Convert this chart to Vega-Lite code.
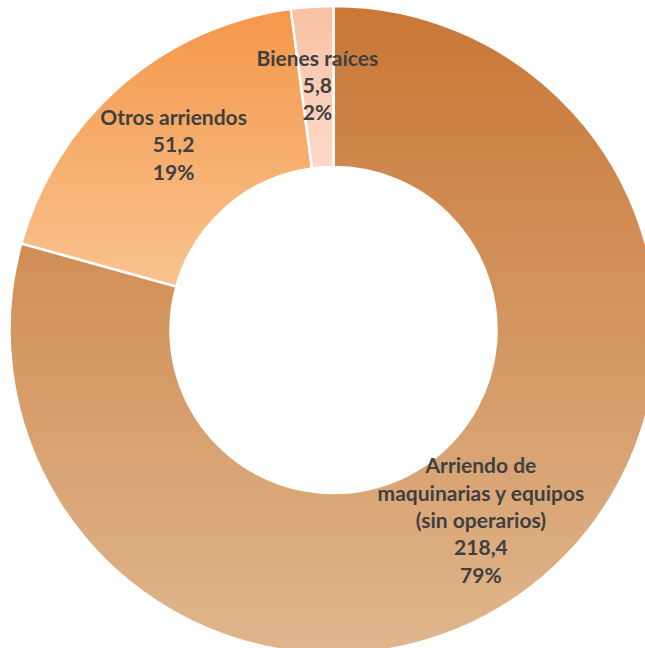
{
  "$schema": "https://vega.github.io/schema/vega-lite/v6.json",
  "autosize": "none",
  "padding": 0,
  "width": 667,
  "height": 660,
  "background": "white",
  "config": {"view": {"stroke": null}},
  "data": {
    "values": [
      {"name": "Arriendo de maquinarias y equipos (sin operarios)", "value": 218.4},
      {"name": "Otros arriendos", "value": 51.2},
      {"name": "Bienes raíces", "value": 5.8}
    ]
  },
  "transform": [
    {"joinaggregate": [{"op": "sum", "field": "value", "as": "total"}]},
    {"window": [{"op": "row_number", "as": "order"}]},
    {"stack": "value", "groupby": [], "sort": [{"field": "order"}], "as": ["v0", "v1"]},
    {"calculate": "(datum.v0 + datum.v1) / 2", "as": "mid"},
    {"calculate": "replace(replace(datum.name, 'Arriendo de ', 'Arriendo de\\n'), 'equipos ', 'equipos\\n') + '\\n' + replace(format(datum.value, '.1f'), '.', ',') + '\\n' + format(datum.value / datum.total, '.0%')", "as": "label"}
  ],
  "layer": [
    {
      "transform": [{"filter": "datum.order == 1"}],
      "mark": {"type": "arc", "innerRadius": 163, "outerRadius": 324, "stroke": "white", "strokeWidth": 2.5,
        "fill": {"gradient": "linear", "x1": 0, "y1": 0, "x2": 0, "y2": 1,
          "stops": [{"offset": 0, "color": "#C87736"}, {"offset": 1, "color": "#E0B68D"}]}},
      "encoding": {
        "theta": {"field": "v0", "type": "quantitative", "scale": {"nice": false, "zero": true, "domain": [0, 275.4], "range": [0, 6.283185307179586]}},
        "theta2": {"field": "v1"}
      }
    },
    {
      "transform": [{"filter": "datum.order == 2"}],
      "mark": {"type": "arc", "innerRadius": 163, "outerRadius": 324, "stroke": "white", "strokeWidth": 2.5,
        "fill": {"gradient": "linear", "x1": 0, "y1": 0, "x2": 0, "y2": 1,
          "stops": [{"offset": 0, "color": "#F4974A"}, {"offset": 1, "color": "#F9C38F"}]}},
      "encoding": {
        "theta": {"field": "v0", "type": "quantitative"},
        "theta2": {"field": "v1"}
      }
    },
    {
      "transform": [{"filter": "datum.order == 3"}],
      "mark": {"type": "arc", "innerRadius": 163, "outerRadius": 324, "stroke": "white", "strokeWidth": 2.5,
        "fill": {"gradient": "linear", "x1": 0, "y1": 0, "x2": 0, "y2": 1,
          "stops": [{"offset": 0, "color": "#F8C1A3"}, {"offset": 1, "color": "#FCD9C9"}]}},
      "encoding": {
        "theta": {"field": "v0", "type": "quantitative"},
        "theta2": {"field": "v1"}
      }
    },
    {
      "transform": [{"filter": "datum.order == 1"}],
      "mark": {"type": "text", "radius": 243.5, "dy": -56.5, "lineBreak": "\n", "font": "Lato", "fontWeight": "bold", "fontSize": 21, "lineHeight": 27.3, "color": "#404040", "align": "center", "baseline": "middle"},
      "encoding": {
        "theta": {"field": "mid", "type": "quantitative", "stack": null},
        "text": {"field": "label"}
      }
    },
    {
      "transform": [{"filter": "datum.order > 1"}],
      "mark": {"type": "text", "radius": 243.5, "dy": -27.3, "lineBreak": "\n", "font": "Lato", "fontWeight": "bold", "fontSize": 21, "lineHeight": 27.3, "color": "#404040", "align": "center", "baseline": "middle"},
      "encoding": {
        "theta": {"field": "mid", "type": "quantitative", "stack": null},
        "text": {"field": "label"}
      }
    }
  ]
}
